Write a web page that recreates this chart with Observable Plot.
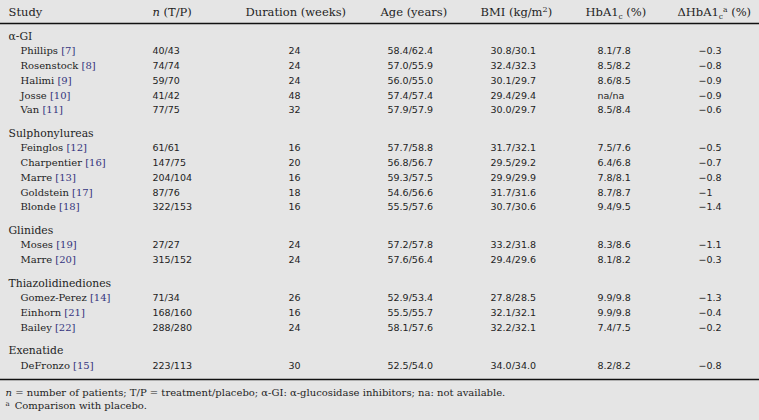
<!DOCTYPE html>
<html>
<head>
<meta charset="utf-8">
<script src="https://cdn.jsdelivr.net/npm/d3@7"></script>
<script src="https://cdn.jsdelivr.net/npm/@observablehq/plot@0.6"></script>
<style>
  html, body { margin: 0; padding: 0; background: #e5e5e5; }
  #chart svg { display: block; }
</style>
</head>
<body>
<div id="chart"></div>
<script>
// ---- data ----
const groups = ["α-GI", "Sulphonylureas", "Glinides", "Thiazolidinediones", "Exenatide"];
const groupSizes = [5, 5, 2, 3, 1];
const studies = ["Phillips", "Rosenstock", "Halimi", "Josse", "Van", "Feinglos", "Charpentier", "Marre", "Goldstein", "Blonde", "Moses", "Marre", "Gomez-Perez", "Einhorn", "Bailey", "DeFronzo"];
const refs = [7, 8, 9, 10, 11, 12, 16, 13, 17, 18, 19, 20, 14, 21, 22, 15];
const nTP = ["40/43", "74/74", "59/70", "41/42", "77/75", "61/61", "147/75", "204/104", "87/76", "322/153", "27/27", "315/152", "71/34", "168/160", "288/280", "223/113"];
const durationWeeks = [24, 24, 24, 48, 32, 16, 20, 16, 18, 16, 24, 24, 26, 16, 24, 30];
const ageYears = ["58.4/62.4", "57.0/55.9", "56.0/55.0", "57.4/57.4", "57.9/57.9", "57.7/58.8", "56.8/56.7", "59.3/57.5", "54.6/56.6", "55.5/57.6", "57.2/57.8", "57.6/56.4", "52.9/53.4", "55.5/55.7", "58.1/57.6", "52.5/54.0"];
const bmi = ["30.8/30.1", "32.4/32.3", "30.1/29.7", "29.4/29.4", "30.0/29.7", "31.7/32.1", "29.5/29.2", "29.9/29.9", "31.7/31.6", "30.7/30.6", "33.2/31.8", "29.4/29.6", "27.8/28.5", "32.1/32.1", "32.2/32.1", "34.0/34.0"];
const hba1c = ["8.1/7.8", "8.5/8.2", "8.6/8.5", "na/na", "8.5/8.4", "7.5/7.6", "6.4/6.8", "7.8/8.1", "8.7/8.7", "9.4/9.5", "8.3/8.6", "8.1/8.2", "9.9/9.8", "9.9/9.8", "7.4/7.5", "8.2/8.2"];
const deltaHbA1c = ["−0.3", "−0.8", "−0.9", "−0.9", "−0.6", "−0.5", "−0.7", "−0.8", "−1", "−1.4", "−1.1", "−0.3", "−1.3", "−0.4", "−0.2", "−0.8"];
const headers = ["Study", "n (T/P)", "Duration (weeks)", "Age (years)", "BMI (kg/m2)", "HbA1c (%)", "ΔHbA1ca (%)"];
const footnotes = [
  "n = number of patients; T/P = treatment/placebo; α-GI: α-glucosidase inhibitors; na: not available.",
  "a Comparison with placebo."
];

// ---- layout (not data) ----
const W = 759, H = 420;
const headerX = [8, 152, 245, 380, 480, 585, 677];
const valueX = [20, 152, 288, 387, 490, 597, 698];
const groupX = 8, footX = 5;
const headerY = 12, headerRuleY = 23, firstY = 36, step = 14.75, groupGap = 8.5;
const bottomRuleY = 379, footY = [392, 405];

const ink = "#1e1e1e";
const refColor = "#35357f";
const serif = "DejaVu Serif";
const sans = "DejaVu Sans";

// build table lines
const groupRows = [];
const cells = [];
let line = 0, s = 0;
groups.forEach((g, gi) => {
  groupRows.push({ text: g, y: firstY + line * step + gi * groupGap });
  line++;
  for (let k = 0; k < groupSizes[gi]; k++, s++, line++) {
    const y = firstY + line * step + gi * groupGap;
    const vals = [`${studies[s]} [${refs[s]}]`, nTP[s], String(durationWeeks[s]), ageYears[s], bmi[s], hba1c[s], deltaHbA1c[s]];
    vals.forEach((v, c) => cells.push({ col: c, y, text: v }));
  }
});
const headerCells = headers.map((h, i) => ({ text: h, x: headerX[i], y: headerY }));
const footCells = footnotes.map((f, i) => ({ text: f, y: footY[i] }));

const plot = Plot.plot({
  width: W, height: H,
  margin: 0,
  style: { background: "#e5e5e5", color: ink, overflow: "visible" },
  x: { domain: [0, W], range: [0, W], axis: null },
  y: { domain: [0, H], range: [0, H], axis: null },
  marks: [
    Plot.ruleY([headerRuleY, bottomRuleY], { y: d => d, x1: 0, x2: W, stroke: "#111", strokeWidth: 1.3 }),
    Plot.text(headerCells, { x: "x", y: "y", text: "text", textAnchor: "start", fontFamily: serif, fontSize: 11.5, fill: ink }),
    Plot.text(groupRows, { x: () => groupX, y: "y", text: "text", textAnchor: "start", fontFamily: serif, fontSize: 10.8, fill: ink }),
    Plot.text(cells.filter(d => d.col === 0), { x: d => valueX[d.col], y: "y", text: "text", textAnchor: "start", fontFamily: serif, fontSize: 10, fill: ink }),
    Plot.text(cells.filter(d => d.col > 0), { x: d => valueX[d.col], y: "y", text: "text", textAnchor: "start", fontFamily: sans, fontSize: 9.5, fill: ink }),
    Plot.text(footCells, { x: () => footX, y: "y", text: "text", textAnchor: "start", fontFamily: serif, fontSize: 10, fill: ink })
  ]
});
document.getElementById("chart").append(plot);

// ---- rich text post-processing (tspans) ----
function rebuild(node, parts) {
  const t = d3.select(node);
  t.text(null);
  parts.forEach(p => {
    const sp = t.append("tspan").text(p.t);
    if (p.style) sp.attr("font-style", p.style);
    if (p.dx) sp.attr("dx", p.dx);
    if (p.dy) sp.attr("dy", p.dy);
    if (p.size) sp.attr("font-size", p.size);
    if (p.fill) sp.attr("fill", p.fill);
  });
}
d3.select(plot).selectAll("text").each(function () {
  const txt = this.textContent;
  let m;
  if (txt === "n (T/P)") rebuild(this, [{ t: "n", style: "italic" }, { t: " (T/P)" }]);
  else if (txt === "BMI (kg/m2)") rebuild(this, [{ t: "BMI (kg/m" }, { t: "2", dy: -4, size: 8 }, { t: ")", dy: 4 }]);
  else if (txt === "HbA1c (%)") rebuild(this, [{ t: "HbA1" }, { t: "c", dy: 3, size: 7.5 }, { t: " (%)", dy: -3 }]);
  else if (txt === "ΔHbA1ca (%)") rebuild(this, [{ t: "ΔHbA1" }, { t: "c", dy: 3, size: 7.5 }, { t: "a", dy: -7, size: 7.5 }, { t: " (%)", dy: 4 }]);
  else if (txt.startsWith("n = ")) rebuild(this, [{ t: "n", style: "italic" }, { t: txt.slice(1) }]);
  else if (txt.startsWith("a Comparison")) rebuild(this, [{ t: "a", dy: -3, size: 7 }, { t: txt.slice(2), dx: 5, dy: 3 }]);
  else if ((m = txt.match(/^(.*) (\[\d+\])$/))) rebuild(this, [{ t: m[1] + " " }, { t: m[2], fill: refColor }]);
});
</script>
</body>
</html>
